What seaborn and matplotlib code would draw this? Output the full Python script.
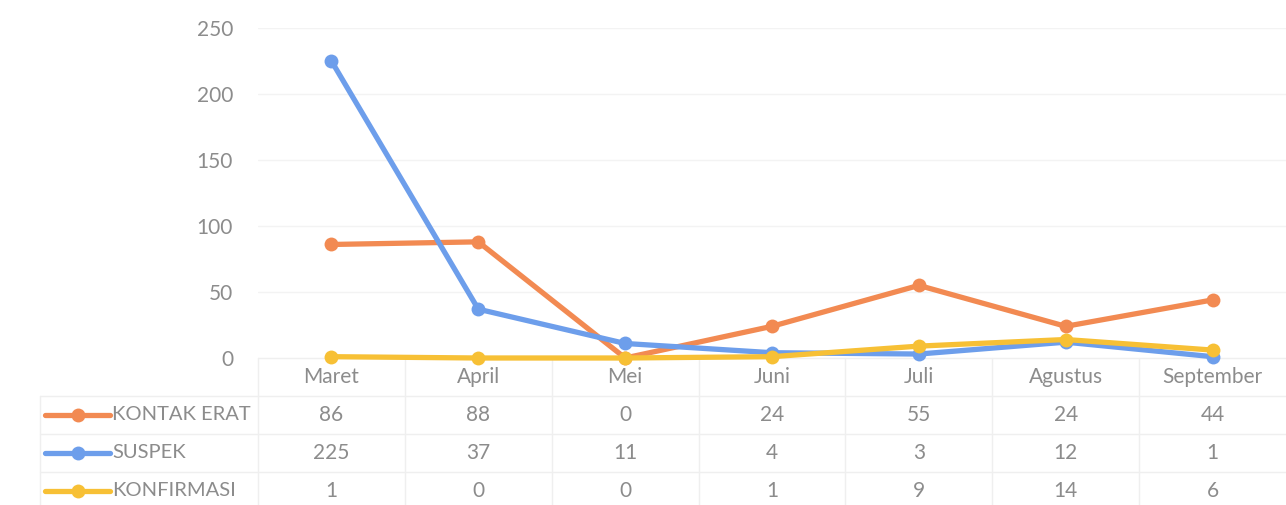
import numpy as np
import pandas as pd
import matplotlib
matplotlib.use('Agg')
import matplotlib.pyplot as plt
from matplotlib.lines import Line2D
import seaborn as sns

# data
bulan = ['Maret', 'April', 'Mei', 'Juni', 'Juli', 'Agustus', 'September']
kontak_erat = [86, 88, 0, 24, 55, 24, 44]
suspek = [225, 37, 11, 4, 3, 12, 1]
konfirmasi = [1, 0, 0, 1, 9, 14, 6]
seri = ['KONTAK ERAT', 'SUSPEK', 'KONFIRMASI']
warna = {'KONTAK ERAT': '#F28A52', 'SUSPEK': '#6D9EEB', 'KONFIRMASI': '#F7C035'}
y_ticks = [0, 50, 100, 150, 200, 250]

sns.set_theme(style='white')
plt.rcParams['font.family'] = ['Lato', 'DejaVu Sans']
abu = '#8c8c8c'
garis = '#efefef'
fs = 15

df = pd.DataFrame({
    'idx': list(range(len(bulan))) * 3,
    'nilai': kontak_erat + suspek + konfirmasi,
    'seri': np.repeat(seri, len(bulan)),
})

W, H = 1286, 505
fig = plt.figure(figsize=(W / 100, H / 100), dpi=100)

# overlay untuk tabel (koordinat piksel)
bg = fig.add_axes([0, 0, 1, 1], zorder=0)
bg.set_xlim(0, W)
bg.set_ylim(H, 0)
bg.axis('off')

left, right, top, zero = 258, 1286, 28, 358
ax = fig.add_axes([left / W, 1 - zero / H, (right - left) / W, (zero - top) / H], zorder=1)
ax.patch.set_alpha(0)

sns.lineplot(data=df, x='idx', y='nilai', hue='seri', palette=warna,
             marker='o', markersize=10, markeredgewidth=0, linewidth=3.8,
             legend=False, ax=ax, clip_on=False)
ax.set_xlim(-0.5, len(bulan) - 0.5)
ax.set_ylim(0, 250)
ax.set_yticks(y_ticks)
ax.set_yticklabels([str(v) for v in y_ticks], color=abu, fontsize=fs)
ax.tick_params(axis='y', length=0, pad=18)
ax.set_xticks([])
ax.set_xlabel('')
ax.set_ylabel('')
for v in y_ticks[1:]:
    ax.axhline(v, color='#f3f3f3', lw=1, zorder=0)
for s in ax.spines.values():
    s.set_visible(False)

# tabel
col_w = (right - left) / len(bulan)
row_y = [377, 415, 453, 491]
for i, b in enumerate(bulan):
    cx = left + col_w * (i + 0.5)
    bg.text(cx, row_y[0], b, ha='center', va='center', color=abu, fontsize=fs)
for r, (nama, vals) in enumerate(zip(seri, [kontak_erat, suspek, konfirmasi])):
    y = row_y[r + 1]
    bg.add_line(Line2D([45, 110], [y, y], color=warna[nama], lw=3.8))
    bg.plot([78], [y], 'o', color=warna[nama], markersize=10, markeredgewidth=0)
    bg.text(112, y, nama, ha='left', va='center', color=abu, fontsize=fs - 0.5)
    for i, v in enumerate(vals):
        cx = left + col_w * (i + 0.5)
        bg.text(cx, y, str(v), ha='center', va='center', color=abu, fontsize=fs)

for yy in [396, 434, 472]:
    bg.add_line(Line2D([40, right], [yy, yy], color=garis, lw=1, zorder=0))
bg.add_line(Line2D([left, right], [zero, zero], color=garis, lw=1, zorder=0))
for i in range(len(bulan)):
    xx = left + col_w * i
    bg.add_line(Line2D([xx, xx], [zero, H], color=garis, lw=1, zorder=0))
bg.add_line(Line2D([40, 40], [396, H], color=garis, lw=1, zorder=0))

fig.savefig('out.png', dpi=100, facecolor='white')
